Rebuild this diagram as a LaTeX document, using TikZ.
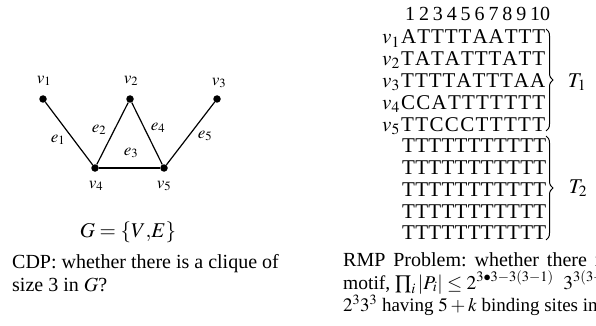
\documentclass[tikz,border=0pt]{standalone}
\usepackage{mathptmx}
\usepackage{fontspec}
\setmainfont{Liberation Serif}
\usetikzlibrary{decorations.pathreplacing}
\newcommand\spreadletters[2]{\hbox to #1{\spreadaux#2\relax\unskip}}
\def\spreadaux#1{\ifx\relax#1\else#1\hfill\expandafter\spreadaux\fi}
\tikzset{
  body/.style={inner sep=0pt, anchor=base west, font=\fontsize{20}{24}\selectfont},
  seq/.style={inner sep=0pt, anchor=base west, font=\fontsize{21}{25}\selectfont},
  lab/.style={inner sep=0pt, font=\fontsize{17}{20}\selectfont},
  vtx/.style={circle, fill=black, inner sep=0pt, minimum size=7.5pt},
  edge/.style={line width=1.2pt},
  bracestyle/.style={decorate, decoration={brace, amplitude=7pt}, line width=1pt}
}
\begin{document}
\begin{tikzpicture}[x=1pt, y=-1pt]
\useasboundingbox (0,0) rectangle (596,326);
\clip (0,0) rectangle (596,326);
% graph
\node[vtx] (v1) at (43,99) {};
\node[vtx] (v2) at (130,99) {};
\node[vtx] (v3) at (217,99) {};
\node[vtx] (v4) at (95,168) {};
\node[vtx] (v5) at (164,168) {};
\draw[edge] (v1) -- (v4);
\draw[edge] (v4) -- (v2);
\draw[edge] (v2) -- (v5);
\draw[edge] (v4) -- (v5);
\draw[edge] (v5) -- (v3);
\node[lab] (lv1) at (44,81) {$v_1$};
\node[lab] (lv2) at (131,81) {$v_2$};
\node[lab] (lv3) at (219,83) {$v_3$};
\node[lab] (lv4) at (96,186) {$v_4$};
\node[lab] (lv5) at (164,186) {$v_5$};
\node[lab] (le1) at (58,140) {$e_1$};
\node[lab] (le2) at (99,130) {$e_2$};
\node[lab] (le3) at (131,153) {$e_3$};
\node[lab] (le4) at (158,128) {$e_4$};
\node[lab] (le5) at (205,136) {$e_5$};
\node[body, anchor=center, font=\fontsize{21}{25}\selectfont] (gdef) at (128,232) {$G = \{V{,}E\}$};
% CDP text
\node[body] (cdp1) at (12,268) {CDP: whether there is a clique of};
\node[body] (cdp2) at (12,291) {size 3 in $G$?};
% sequences
\node[seq, font=\fontsize{20}{24}\selectfont] (nums) at (405,21) {\spreadletters{145pt}{{1}{2}{3}{4}{5}{6}{7}{8}{9}{10}}};
\node[seq] (r1) at (401,44) {\spreadletters{144pt}{ATTTTAATTT}};
\node[seq] (r2) at (401,65.75) {\spreadletters{144pt}{TATATTTATT}};
\node[seq] (r3) at (401,87.5) {\spreadletters{144pt}{TTTTATTTAA}};
\node[seq] (r4) at (401,109.25) {\spreadletters{144pt}{CCATTTTTTT}};
\node[seq] (r5) at (401,131) {\spreadletters{144pt}{TTCCCTTTTT}};
\node[seq, anchor=base east] (l1) at (400,44) {$v_1$};
\node[seq, anchor=base east] (l2) at (400,65.75) {$v_2$};
\node[seq, anchor=base east] (l3) at (400,87.5) {$v_3$};
\node[seq, anchor=base east] (l4) at (400,109.25) {$v_4$};
\node[seq, anchor=base east] (l5) at (400,131) {$v_5$};
\node[seq] (r6) at (402,152.75) {\spreadletters{144pt}{TTTTTTTTTTT}};
\node[seq] (r7) at (402,174.5) {\spreadletters{144pt}{TTTTTTTTTTT}};
\node[seq] (r8) at (402,196.25) {\spreadletters{144pt}{TTTTTTTTTTT}};
\node[seq] (r9) at (402,218) {\spreadletters{144pt}{TTTTTTTTTTT}};
\node[seq] (r10) at (402,239.75) {\spreadletters{144pt}{TTTTTTTTTTT}};
\coordinate (b1t) at (546,29);
\coordinate (b1b) at (546,131);
\coordinate (b2t) at (546,136);
\coordinate (b2b) at (546,240);
\draw[bracestyle] (b1t) -- (b1b);
\draw[bracestyle] (b2t) -- (b2b);
\node[seq, anchor=center] (t1) at (577,82) {$T_1$};
\node[seq, anchor=center] (t2) at (578,188) {$T_2$};
% RMP text
\node[body] (rmp1) at (343,266) {\hbox to 265pt{RMP\hfill Problem:\hfill whether\hfill there\hfill is}};
\node[body, font=\fontsize{19.5}{23}\selectfont] (rmp2) at (343,289) {motif, $\prod_i |P_i| \le 2^{3\bullet 3-3(3-1)}\enspace 3^{3(3-1)}$};
\node[body, font=\fontsize{19}{23}\selectfont] (rmp3) at (343,311) {$2^3 3^3$ having $5 + k$ binding sites in};
\end{tikzpicture}
\end{document}
